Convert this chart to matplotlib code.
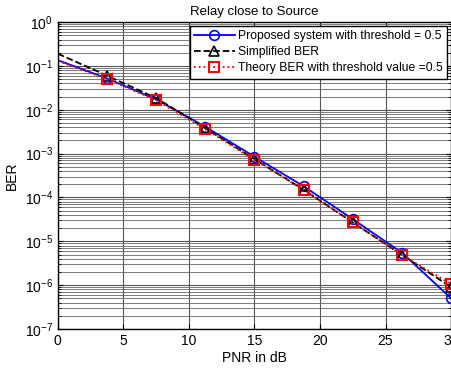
import numpy as np
import matplotlib.pyplot as plt
from matplotlib.ticker import LogLocator, NullFormatter

plt.rcParams['font.family'] = ['Liberation Sans', 'DejaVu Sans']

pnr = [0, 3.75, 7.5, 11.25, 15, 18.75, 22.5, 26.25, 30]
ber_proposed = [0.135, 0.052, 0.0172, 0.0041, 8.5e-4, 1.8e-4, 3.2e-5, 5.5e-6, 5.0e-7]
ber_simplified = [0.19, 0.060, 0.0185, 0.0038, 7.5e-4, 1.5e-4, 2.7e-5, 4.9e-6, 9.0e-7]
ber_theory = [0.13, 0.050, 0.0165, 0.0036, 7.2e-4, 1.5e-4, 2.7e-5, 4.9e-6, 1.05e-6]

labels = ["Proposed system with threshold = 0.5",
          "Simplified BER",
          "Theory BER with threshold value =0.5"]

fig = plt.figure(figsize=(4.52, 3.68), dpi=100)
ax = fig.add_axes([0.128, 0.106, 0.87, 0.834])

ax.semilogy(pnr, ber_proposed, "b-o", lw=1.3, ms=7, mfc="none", mew=1.2,
            markevery=range(1, len(pnr)), label=labels[0])
ax.semilogy(pnr, ber_simplified, "k--^", lw=1.3, ms=7, mfc="none", mew=1.2,
            markevery=range(1, len(pnr)), label=labels[1])
ax.semilogy(pnr, ber_theory, "r:s", lw=1.3, ms=7, mfc="none", mew=1.5,
            markevery=range(1, len(pnr)), label=labels[2])

ax.set_xlim(0, 30)
ax.set_ylim(1e-7, 1)
ax.set_xticks([0, 5, 10, 15, 20, 25, 30])
ax.yaxis.set_major_locator(LogLocator(base=10, numticks=10))
ax.yaxis.set_minor_locator(LogLocator(base=10, subs=np.arange(2, 10), numticks=100))
ax.yaxis.set_minor_formatter(NullFormatter())
ax.grid(True, which="major", color="#555555", lw=0.8)
ax.grid(True, which="minor", axis="y", color="#666666", lw=0.6)
ax.tick_params(which="both", direction="in", top=True, right=True, labelsize=10)
for s in ax.spines.values():
    s.set_linewidth(1.0)

ax.set_title("Relay close to Source", fontsize=9.5, pad=5)
ax.set_xlabel("PNR in dB", fontsize=10, labelpad=2)
ax.set_ylabel("BER", fontsize=10, labelpad=4)

leg = ax.legend(loc="upper right", fontsize=8.7, fancybox=False, framealpha=1,
                edgecolor="black", borderaxespad=0.3, handlelength=3.4,
                labelspacing=0.35, borderpad=0.35, handletextpad=0.3)
leg.get_frame().set_linewidth(1.0)

plt.savefig("out.png", dpi=100)
